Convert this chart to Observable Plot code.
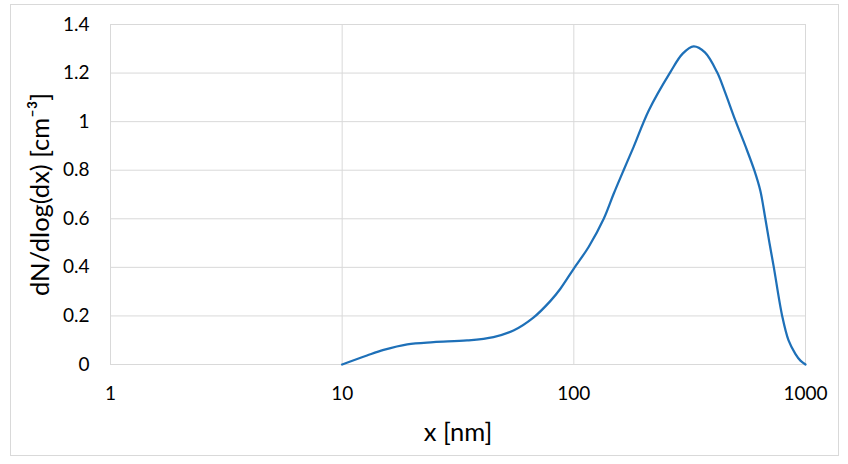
<!DOCTYPE html>
<html>
<head>
<meta charset="utf-8">
<script src="https://cdn.jsdelivr.net/npm/d3@7"></script>
<script src="https://cdn.jsdelivr.net/npm/@observablehq/plot@0.6"></script>
<style>
  html, body { margin: 0; padding: 0; background: #fff; }
  #wrap { position: relative; width: 848px; height: 464px; overflow: hidden; }
  #frame { position: absolute; left: 10px; top: 4px; width: 829px; height: 452px; border: 1px solid #d9d9d9; box-sizing: border-box; pointer-events: none; }
  #chart { position: absolute; left: 0; top: 0; }
</style>
</head>
<body>
<div id="wrap"><div id="chart"></div><div id="frame"></div></div>
<script>
// Particle size [nm]
const sizes = [10, 12.8, 15.1, 19.1, 24.8, 34.6, 45, 54.9, 66.9, 79.3, 87.5, 100, 116, 134.6, 148.6, 164, 181, 210.6, 261, 295, 329, 368, 415, 446, 498, 550, 601, 638, 671, 700, 730, 793, 845, 904, 951, 1000];
// dN/dlog(dx) [cm^-3]
const values = [0, 0.037, 0.060, 0.083, 0.092, 0.099, 0.113, 0.140, 0.193, 0.262, 0.312, 0.395, 0.485, 0.600, 0.703, 0.800, 0.895, 1.046, 1.204, 1.280, 1.310, 1.285, 1.204, 1.130, 1.005, 0.900, 0.800, 0.716, 0.600, 0.497, 0.400, 0.200, 0.099, 0.044, 0.016, 0];
const xTicks = [1, 10, 100, 1000];
const yTicks = [0, 0.2, 0.4, 0.6, 0.8, 1.0, 1.2, 1.4];
const xLabel = "x [nm]";
const yLabel = "dN/dlog(dx) [cm⁻³]";

const data = sizes.map((s, i) => ({x: s, y: values[i]}));
const font = "Lato, 'Open Sans', sans-serif";

const plot = Plot.plot({
  width: 848,
  height: 464,
  marginLeft: 110,
  marginRight: 43,
  marginTop: 24,
  marginBottom: 100,
  style: {fontFamily: font, fontSize: "19px", color: "#000", background: "transparent"},
  x: {type: "log", domain: [1, 1000]},
  y: {domain: [0, 1.4]},
  marks: [
    Plot.ruleY(yTicks, {y: d => d, stroke: "#d9d9d9", strokeWidth: 1}),
    Plot.ruleX(xTicks, {x: d => d, stroke: "#d9d9d9", strokeWidth: 1}),
    Plot.axisY(yTicks, {tickSize: 0, tickPadding: 21, tickFormat: d => String(+d.toFixed(1)), label: null, fontSize: 19}),
    Plot.axisX(xTicks, {tickSize: 0, tickPadding: 22, tickFormat: d => String(d), label: null, fontSize: 19}),
    Plot.line(data, {x: "x", y: "y", curve: "catmull-rom", stroke: "#1e70b8", strokeWidth: 2.25}),
    Plot.text([xLabel], {text: d => d, frameAnchor: "bottom", textAnchor: "middle", lineAnchor: "middle", dy: 68, fontSize: 25.5, fill: "#000"}),
    Plot.text([yLabel], {text: d => d, frameAnchor: "left", textAnchor: "middle", lineAnchor: "middle", rotate: -90, dx: -70, dy: 0, fontSize: 25.5, fill: "#000"})
  ]
});
document.getElementById("chart").appendChild(plot);
</script>
</body>
</html>
